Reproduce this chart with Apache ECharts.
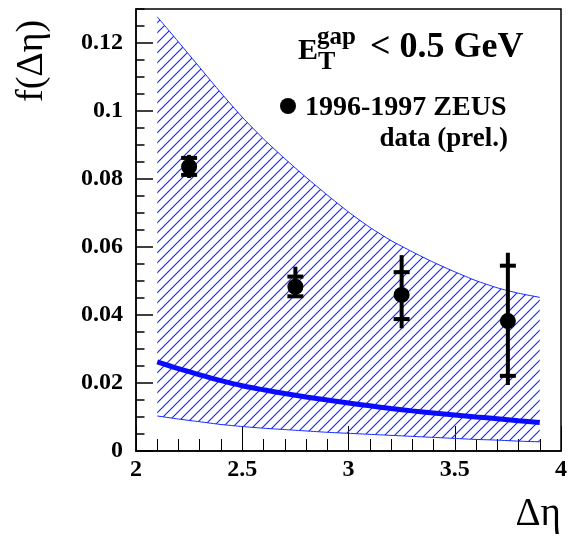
<!DOCTYPE html>
<html>
<head>
<meta charset="utf-8">
<script src="https://cdn.jsdelivr.net/npm/echarts@6/dist/echarts.min.js"></script>
<style>
html,body{margin:0;padding:0;background:#fff;}
#chart{width:570px;height:538px;}
</style>
</head>
<body>
<div id="chart"></div>
<script>
// ---- data ----
const xTicks = [2, 2.5, 3, 3.5, 4];
const yTicks = [0, 0.02, 0.04, 0.06, 0.08, 0.1, 0.12];
const bandX = [2.1, 2.2, 2.3, 2.4, 2.5, 2.6, 2.7, 2.8, 2.9, 3.0, 3.1, 3.2, 3.3, 3.4, 3.5, 3.6, 3.7, 3.8, 3.9];
const bandUpper = [0.1277, 0.1203, 0.1128, 0.1053, 0.0982, 0.0918, 0.0860, 0.0805, 0.0753, 0.0703,
                   0.0658, 0.0619, 0.0586, 0.0555, 0.0527, 0.0501, 0.0480, 0.0464, 0.0452];
const bandLower = [0.0103, 0.0094, 0.0086, 0.0078, 0.0072, 0.0067, 0.0063, 0.0059, 0.0055, 0.0052,
                   0.0049, 0.0046, 0.0043, 0.0040, 0.0037, 0.0034, 0.0032, 0.0029, 0.0027];
const curveY = [0.0262, 0.0242, 0.0224, 0.0207, 0.0192, 0.0180, 0.0169, 0.0159, 0.0150, 0.0141,
                0.0133, 0.0125, 0.0118, 0.0112, 0.0106, 0.0100, 0.0095, 0.0089, 0.0084];
const ptX = [2.25, 2.75, 3.25, 3.75];
const ptY = [0.0836, 0.0483, 0.0459, 0.0382];
const statLow = [0.0812, 0.0455, 0.0388, 0.0221];
const statHigh = [0.0862, 0.0513, 0.0526, 0.0545];
const totLow = [0.0803, 0.0452, 0.0361, 0.0194];
const totHigh = [0.0871, 0.0542, 0.0576, 0.0583];

const SERIF = "'Liberation Serif','Times New Roman',serif";
const BLUE = '#0a0aff';
const HATCH = 'rgb(20,40,255)';

// hatch pattern tile
const pc = document.createElement('canvas');
pc.width = 10; pc.height = 10;
const pctx = pc.getContext('2d');
pctx.clearRect(0, 0, 10, 10);
pctx.strokeStyle = HATCH;
pctx.lineWidth = 1.15;
pctx.beginPath();
pctx.moveTo(0, 10); pctx.lineTo(10, 0);
pctx.moveTo(-1, 1); pctx.lineTo(1, -1);
pctx.moveTo(9, 11); pctx.lineTo(11, 9);
pctx.stroke();

const upperData = bandX.map((x, i) => [x, bandUpper[i]]);
const lowerData = bandX.map((x, i) => [x, bandLower[i]]);
const curveData = bandX.map((x, i) => [x, curveY[i]]);
const pointData = ptX.map((x, i) => [x, ptY[i]]);
const errData = ptX.map((x, i) => [x, totLow[i], totHigh[i], statLow[i], statHigh[i]]);

const chart = echarts.init(document.getElementById('chart'), null, {renderer: 'canvas'});

const labelStyle = {fontFamily: SERIF, fontWeight: 'bold', fontSize: 24, color: '#000'};
function txt(text, x, baseline, size, bold, align) {
  return {type: 'text', x: x, y: baseline - 0.84 * size,
    style: {text: text, font: (bold ? 'bold ' : '') + size + 'px ' + SERIF, fill: '#000',
      textAlign: align || 'left', textVerticalAlign: 'top'}};
}

chart.setOption({
  animation: false,
  grid: {left: 136, right: 8, top: 9, bottom: 87, show: true, borderColor: '#000', borderWidth: 1.5, backgroundColor: 'transparent'},
  xAxis: [
    {type: 'value', min: 2, max: 4, interval: 0.5, position: 'bottom',
     axisLine: {show: true, onZero: false, lineStyle: {color: '#000', width: 1.5}},
     axisTick: {show: true, inside: true, length: 25, lineStyle: {color: '#000', width: 1}},
     axisLabel: Object.assign({margin: 7}, labelStyle),
     splitLine: {show: false}},
    {type: 'value', min: 2, max: 4, interval: 0.1, position: 'bottom',
     axisLine: {show: false, onZero: false},
     axisTick: {show: true, inside: true, length: 12, lineStyle: {color: '#000', width: 1}},
     axisLabel: {show: false}, splitLine: {show: false}}
  ],
  yAxis: [
    {type: 'value', min: 0, max: 0.13, interval: 0.02, position: 'left',
     axisLine: {show: true, onZero: false, lineStyle: {color: '#000', width: 1.5}},
     axisTick: {show: true, inside: true, length: 17, lineStyle: {color: '#000', width: 1.5}},
     axisLabel: Object.assign({margin: 13, showMaxLabel: false,
       formatter: v => (yTicks.some(t => Math.abs(t - v) < 1e-9) ? String(+v.toFixed(3)) : '')}, labelStyle),
     splitLine: {show: false}},
    {type: 'value', min: 0, max: 0.13, interval: 0.005, position: 'left',
     axisLine: {show: false, onZero: false},
     axisTick: {show: true, inside: true, length: 8.5, lineStyle: {color: '#000', width: 1.5}},
     axisLabel: {show: false}, splitLine: {show: false}}
  ],
  series: [
    {type: 'custom', name: 'bandFill', data: [[bandX[0], bandUpper[0]]], xAxisIndex: 0, yAxisIndex: 0, z: 1,
     silent: true,
     renderItem: function (params, api) {
       const pts = [];
       for (let i = 0; i < bandX.length; i++) pts.push(api.coord([bandX[i], bandUpper[i]]));
       for (let i = bandX.length - 1; i >= 0; i--) pts.push(api.coord([bandX[i], bandLower[i]]));
       return {type: 'polygon', shape: {points: pts},
         style: {fill: {image: pc, repeat: 'repeat'}, stroke: null, opacity: 1}};
     }},
    {type: 'line', name: 'bandUp', data: upperData, symbol: 'none', smooth: 0.2,
     xAxisIndex: 0, yAxisIndex: 0, lineStyle: {color: HATCH, width: 1}, z: 2},
    {type: 'line', name: 'bandLow', data: lowerData, symbol: 'none', smooth: 0.2,
     xAxisIndex: 0, yAxisIndex: 0, lineStyle: {color: HATCH, width: 1}, z: 2},
    {type: 'line', name: 'theory', data: curveData, smooth: 0.3, symbol: 'none',
     xAxisIndex: 0, yAxisIndex: 0, lineStyle: {color: BLUE, width: 5}, z: 3},
    {type: 'custom', name: 'errors', data: errData, xAxisIndex: 0, yAxisIndex: 0, z: 4,
     renderItem: function (params, api) {
       const x = api.value(0);
       const pLo = api.coord([x, api.value(1)]);
       const pHi = api.coord([x, api.value(2)]);
       const sLo = api.coord([x, api.value(3)]);
       const sHi = api.coord([x, api.value(4)]);
       const st = {fill: '#000'};
       return {type: 'group', children: [
         {type: 'rect', shape: {x: pHi[0] - 2, y: pHi[1], width: 4, height: pLo[1] - pHi[1]}, style: st},
         {type: 'rect', shape: {x: sHi[0] - 8, y: sHi[1] - 2, width: 16, height: 4}, style: st},
         {type: 'rect', shape: {x: sLo[0] - 8, y: sLo[1] - 2, width: 16, height: 4}, style: st}
       ]};
     }},
    {type: 'scatter', name: 'data', data: pointData, symbol: 'circle', symbolSize: 16,
     xAxisIndex: 0, yAxisIndex: 0, itemStyle: {color: '#000', opacity: 1}, z: 5}
  ],
  graphic: [
    txt('E', 298, 61, 30, true),
    txt('gap', 317, 46, 25, true),
    txt('T', 318, 71, 26, true),
    txt('< 0.5 GeV', 370, 60, 36, true),
    {type: 'circle', shape: {cx: 288, cy: 106, r: 8}, style: {fill: '#000'}},
    txt('1996-1997 ZEUS', 305, 117, 28, true),
    txt('data (prel.)', 508, 148, 27, true, 'right'),
    txt('Δη', 561, 528, 39, false, 'right'),
    {type: 'text', x: 51, y: 102, rotation: Math.PI / 2,
     style: {text: 'f(Δη)', font: '38px ' + SERIF, fill: '#000', textAlign: 'left', textVerticalAlign: 'bottom'}}
  ]
});
</script>
</body>
</html>
